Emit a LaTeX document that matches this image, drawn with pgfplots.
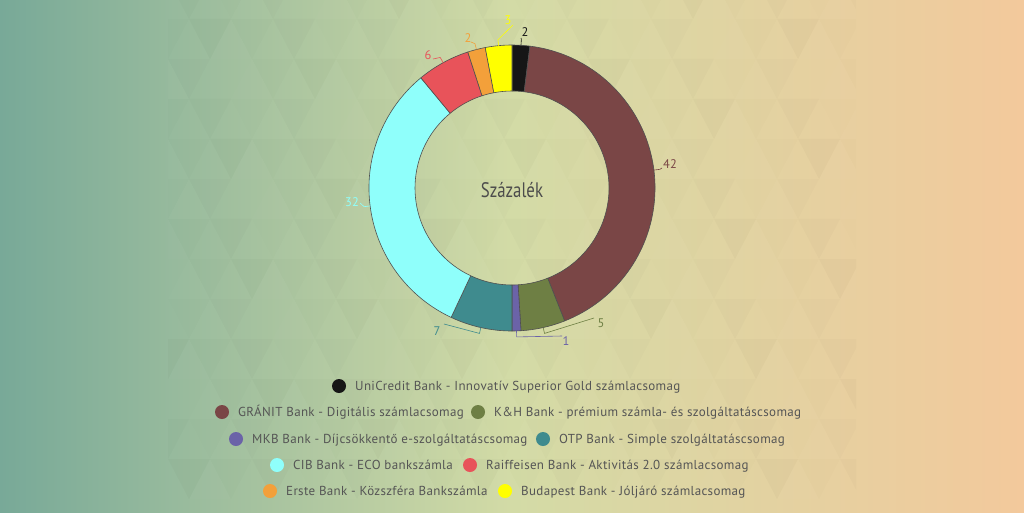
\documentclass[border=0pt]{standalone}
\usepackage{pgfplots}
\pgfplotsset{compat=1.18}
\usepackage{pgfplotstable}
\usepackage{fontspec}
\setmainfont{PT Sans}
\newfontfamily\narrowfont[FakeStretch=0.8]{PT Sans}
\newfontfamily\legfont[LetterSpace=2.5]{PT Sans}

\definecolor{bgL}{HTML}{78A998}
\definecolor{bgM}{HTML}{D3DBA6}
\definecolor{bgR}{HTML}{F3C99C}
\definecolor{txt}{HTML}{555555}
\definecolor{edge}{HTML}{505050}
\definecolor{c0}{HTML}{161616} % UniCredit
\definecolor{c1}{HTML}{7A4646} % GRANIT
\definecolor{c2}{HTML}{6E7F44} % K&H
\definecolor{c3}{HTML}{6B63A8} % MKB
\definecolor{c4}{HTML}{3F8B8E} % OTP
\definecolor{c5}{HTML}{8FFFFB} % CIB
\definecolor{c6}{HTML}{E8535A} % Raiffeisen
\definecolor{c7}{HTML}{F3A03A} % Erste
\definecolor{c8}{HTML}{FFFF00} % Budapest

% shares in percent, clockwise from 12 o'clock; label position and leader end (px)
\pgfplotstableread{
value lx ly ex ey
2  525 32  521 38
42 670 164 662 168
5  601 323 594 318
1  566 341 562 336
7  437 331 444 324
32 352 202 360 203
6  428 55  433 59
2  468 38  471 42
3  508 20  513 25
}\slices

% legend: marker centre (px) and entry text
\pgfplotstableread[col sep=comma]{
mx,my,name
339,386,UniCredit Bank - Innovatív Superior Gold számlacsomag
222,412,GRÁNIT Bank - Digitális számlacsomag
478,412,K\&H Bank - prémium számla- és szolgáltatáscsomag
236,439,MKB Bank - Díjcsökkentő e-szolgáltatáscsomag
543,439,OTP Bank - Simple szolgáltatáscsomag
277,465,CIB Bank - ECO bankszámla
470,465,Raiffeisen Bank - Aktivitás 2.0 számlacsomag
270,491,Erste Bank - Közszféra Bankszámla
505,491,Budapest Bank - Jóljáró számlacsomag
}\legendtab

\begin{document}
\begin{tikzpicture}
% background
\begin{scope}[x=1pt,y=-1pt,shift={(0,512pt)}]
\shade[left color=bgL, right color=bgM] (0,0) rectangle (512,512);
\shade[left color=bgM, right color=bgR] (512,0) rectangle (1024,512);
\begin{scope}
\clip (168,0) rectangle (856,500);
\foreach \r in {0,...,12}{
  \foreach \k in {0,...,33}{
    \pgfmathsetmacro\yt{-21+40*\r}
    \pgfmathsetmacro\yb{19+40*\r}
    \pgfmathsetmacro\xc{168+21*\k}
    \pgfmathtruncatemacro\lev{mod(\k*5+\r*3,7)}
    \pgfmathsetmacro\op{0.0032*\lev}
    \ifodd\numexpr\k+\r\relax
      \fill[black, opacity=\op] (\xc-21,\yt) -- (\xc+21,\yt) -- (\xc,\yb) -- cycle;
    \else
      \fill[white, opacity=\op] (\xc-21,\yb) -- (\xc+21,\yb) -- (\xc,\yt) -- cycle;
    \fi
  }
}
\end{scope}
\end{scope}

\begin{axis}[
  x=1pt, y=1pt, y dir=reverse,
  xmin=0, xmax=1024, ymin=0, ymax=512,
  enlargelimits=false, hide axis, clip=false,
  at={(0,0)}, anchor=south west,
]
\pgfplotstablegetrowsof{\slices}
\pgfmathtruncatemacro\nrows{\pgfplotsretval-1}
\def\cum{0}
\pgfplotsforeachungrouped \i in {0,...,\nrows}{
  \pgfplotstablegetelem{\i}{value}\of{\slices}\let\v\pgfplotsretval
  \pgfplotstablegetelem{\i}{lx}\of{\slices}\let\lx\pgfplotsretval
  \pgfplotstablegetelem{\i}{ly}\of{\slices}\let\ly\pgfplotsretval
  \pgfplotstablegetelem{\i}{ex}\of{\slices}\let\ex\pgfplotsretval
  \pgfplotstablegetelem{\i}{ey}\of{\slices}\let\ey\pgfplotsretval
  \pgfmathsetmacro\aa{90-3.6*\cum}
  \pgfmathsetmacro\ab{90-3.6*(\cum+\v)}
  \pgfmathsetmacro\am{(\aa+\ab)/2}
  \pgfmathsetmacro\cum{\cum+\v}
  \edef\temp{%
    \noexpand\filldraw[fill=c\i, draw=edge, line width=0.6pt, line join=round]
      (axis cs:512,188) ++(\aa:143pt) arc[start angle=\aa, end angle=\ab, radius=143pt]
      -- ++(\ab:-46pt) arc[start angle=\ab, end angle=\aa, radius=97pt] -- cycle;
    \noexpand\draw[c\i, line width=0.6pt]
      (axis cs:512,188) ++(\am:143pt) -- ++(\am:6pt) -- (axis cs:\ex,\ey);
    \noexpand\node[text=c\i, font=\noexpand\fontsize{12.5}{14}\noexpand\selectfont, inner sep=0pt]
      at (axis cs:\lx,\ly) {\v};
  }\temp
}
\node[text=txt!90!black, font=\narrowfont\fontsize{21}{24}\selectfont]
  at (axis cs:512,190) {Százalék};

\pgfplotstablegetrowsof{\legendtab}
\pgfmathtruncatemacro\nrows{\pgfplotsretval-1}
\pgfplotsforeachungrouped \i in {0,...,\nrows}{
  \pgfplotstablegetelem{\i}{mx}\of{\legendtab}\let\mx\pgfplotsretval
  \pgfplotstablegetelem{\i}{my}\of{\legendtab}\let\my\pgfplotsretval
  \pgfplotstablegetelem{\i}{name}\of{\legendtab}\let\name\pgfplotsretval
  \pgfmathsetmacro\tx{\mx+16}
  \pgfmathsetmacro\ty{\my+4.5}
  \edef\temp{%
    \noexpand\fill[c\i] (axis cs:\mx,\my) circle[radius=7pt];
    \noexpand\node[anchor=base west, inner sep=0pt, text=txt,
      font=\noexpand\legfont\noexpand\fontsize{13}{15}\noexpand\selectfont]
      at (axis cs:\tx,\ty) {\unexpanded\expandafter{\name}};
  }\temp
}
\end{axis}
\end{tikzpicture}
\end{document}
